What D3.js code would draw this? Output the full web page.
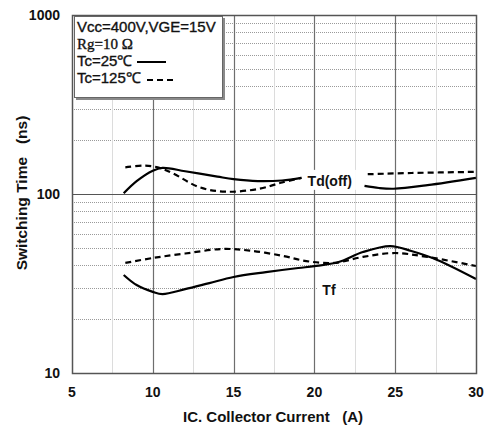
<!DOCTYPE html>
<html>
<head>
<meta charset="utf-8">
<script src="https://cdn.jsdelivr.net/npm/d3@7"></script>
<style>
  html, body { margin: 0; padding: 0; background: #fff; }
  svg { display: block; font-family: "Liberation Sans", Arial, sans-serif; }
</style>
</head>
<body>
<svg id="chart" width="485" height="426"></svg>
<script>
// Collector current (A) and switching times (ns)
const tdoff25I   = [8.2, 9, 10, 10.6, 12, 14, 15, 16.5, 18, 19.2, null, 23.1, 24, 24.9, 27, 30];
const tdoff25T   = [101, 118, 135, 140, 134, 125, 121, 118, 119, 123, null, 111, 108, 107, 112, 123];
const tdoff125I  = [8.3, 9.5, 10.3, 11.2, 12.9, 14.5, 16.6, 18, 19.2, null, 23.3, 26, 30];
const tdoff125T  = [141, 144, 141, 131, 109, 103, 107, 116, 123, null, 129, 131, 133];
const tf25I      = [8.2, 9, 10, 10.6, 12, 13.5, 15, 17, 19, 20, 21.5, 23, 24.7, 26, 27.6, 30];
const tf25T      = [35.3, 31, 28.4, 27.6, 29.4, 31.8, 34.4, 36.6, 38.6, 39.5, 41.7, 47.4, 51.2, 48, 42.8, 33.5];
const tf125I     = [8.3, 10, 12, 14.3, 16, 18, 19.5, 21.2, 23, 24.9, 27, 30];
const tf125T     = [41.2, 43.9, 46.5, 49.3, 48.3, 45.2, 42.2, 41.2, 44.5, 46.8, 44.5, 39.6];

const xTicks = [5, 10, 15, 20, 25, 30];
const xMinor = [7.5, 12.5, 17.5, 22.5, 27.5];
const yTicks = [10, 100, 1000];
const yMinor = [20, 30, 40, 50, 60, 70, 80, 90, 200, 300, 400, 500, 600, 700, 800, 900];

const legendLines = ["Vcc=400V,VGE=15V", "Rg=10 Ω", "Tc=25℃", "Tc=125℃"];

const svg = d3.select("#chart");
const m = { left: 72, right: 476, top: 15, bottom: 373 };

const x = d3.scaleLinear().domain([5, 30]).range([m.left, m.right]);
const y = d3.scaleLog().domain([10, 1000]).range([m.bottom, m.top]);

// Grid
const grid = svg.append("g");
grid.selectAll(".hminor").data(yMinor).join("line")
  .attr("x1", m.left).attr("x2", m.right)
  .attr("y1", d => Math.round(y(d)) + 0.5).attr("y2", d => Math.round(y(d)) + 0.5)
  .attr("stroke", "#9a9a9a").attr("stroke-width", 1).attr("stroke-dasharray", "1,1");
grid.selectAll(".vminor").data(xMinor).join("line")
  .attr("x1", d => Math.round(x(d)) + 0.5).attr("x2", d => Math.round(x(d)) + 0.5)
  .attr("y1", m.top).attr("y2", m.bottom)
  .attr("stroke", "#dcdcdc").attr("stroke-width", 1);
grid.selectAll(".vmajor").data(xTicks.slice(1, -1)).join("line")
  .attr("x1", d => Math.round(x(d)) + 0.5).attr("x2", d => Math.round(x(d)) + 0.5)
  .attr("y1", m.top).attr("y2", m.bottom)
  .attr("stroke", "#6e6e6e").attr("stroke-width", 1.2);
grid.selectAll(".hmajor").data([100]).join("line")
  .attr("x1", m.left).attr("x2", m.right)
  .attr("y1", d => Math.round(y(d)) + 0.5).attr("y2", d => Math.round(y(d)) + 0.5)
  .attr("stroke", "#555").attr("stroke-width", 1.2);

// Curve labels with white backing
function curveLabel(txt, cx, cy, padX, padTop, padBottom) {
  const g = svg.append("g");
  const t = g.append("text")
    .attr("x", x(cx)).attr("y", y(cy))
    .attr("text-anchor", "middle")
    .attr("font-size", 14).attr("font-weight", "bold").attr("fill", "#111")
    .text(txt);
  const bb = t.node().getBBox();
  g.insert("rect", "text")
    .attr("x", bb.x - padX).attr("y", bb.y - padTop)
    .attr("width", bb.width + 2 * padX).attr("height", bb.height + padTop + padBottom)
    .attr("fill", "#fff");
}
curveLabel("Td(off)", 20.95, 111, 4, 3, 1);
curveLabel("Tf", 20.9, 27.2, 5, 0, 0);

// Curves
const line = d3.line()
  .defined(d => d[0] != null && d[1] != null)
  .x(d => x(d[0])).y(d => y(d[1]))
  .curve(d3.curveCatmullRom.alpha(0.5));

const series = [
  { I: tdoff25I, T: tdoff25T, dash: null },
  { I: tdoff125I, T: tdoff125T, dash: "6,4" },
  { I: tf25I, T: tf25T, dash: null },
  { I: tf125I, T: tf125T, dash: "6,4" }
];
svg.append("g").selectAll("path").data(series).join("path")
  .attr("d", s => line(s.I.map((v, i) => [v, s.T[i]])))
  .attr("fill", "none").attr("stroke", "#000").attr("stroke-width", 2.2)
  .attr("stroke-dasharray", s => s.dash);

// Plot frame
svg.append("rect")
  .attr("x", m.left + 0.5).attr("y", m.top + 0.5)
  .attr("width", m.right - m.left).attr("height", m.bottom - m.top)
  .attr("fill", "none").attr("stroke", "#555").attr("stroke-width", 1.5);

// Axis tick labels
svg.append("g").selectAll("text").data(xTicks).join("text")
  .attr("x", d => x(d)).attr("y", 397)
  .attr("text-anchor", "middle").attr("font-size", 14).attr("font-weight", "bold").attr("fill", "#111")
  .text(d => d);
svg.append("g").selectAll("text").data(yTicks).join("text")
  .attr("x", 60).attr("y", d => y(d) + 5)
  .attr("text-anchor", "end").attr("font-size", 14).attr("font-weight", "bold").attr("fill", "#111")
  .text(d => d);

// Axis titles
svg.append("text")
  .attr("x", 273).attr("y", 422)
  .attr("text-anchor", "middle").attr("font-size", 15).attr("font-weight", "bold").attr("fill", "#111")
  .style("white-space", "pre")
  .text("IC. Collector Current   (A)");
svg.append("text")
  .attr("transform", "translate(27,193) rotate(-90)")
  .attr("text-anchor", "middle").attr("font-size", 15.5).attr("font-weight", "bold").attr("fill", "#111")
  .style("white-space", "pre")
  .text("Switching Time   (ns)");

// Legend box
const lg = svg.append("g");
lg.append("rect").attr("x", 76).attr("y", 18).attr("width", 149).attr("height", 82).attr("fill", "#8a8a8a");
lg.append("rect").attr("x", 74.5).attr("y", 16.5).attr("width", 148).attr("height", 81)
  .attr("fill", "#fff").attr("stroke", "#666").attr("stroke-width", 1);

const lgY = [32, 49, 66, 83];
lg.selectAll("text").data(legendLines).join("text")
  .attr("x", 77).attr("y", (d, i) => lgY[i])
  .attr("font-size", 15).attr("fill", "#111")
  .attr("stroke", "#111").attr("stroke-width", 0.35)
  .attr("font-family", (d, i) => i === 1 ? "'Liberation Serif', 'Times New Roman', serif" : null)
  .text(d => d);
lg.append("line").attr("x1", 137).attr("x2", 166).attr("y1", 62).attr("y2", 62)
  .attr("stroke", "#000").attr("stroke-width", 2);
lg.append("line").attr("x1", 147).attr("x2", 177).attr("y1", 80).attr("y2", 80)
  .attr("stroke", "#000").attr("stroke-width", 2).attr("stroke-dasharray", "6,4");
</script>
</body>
</html>
